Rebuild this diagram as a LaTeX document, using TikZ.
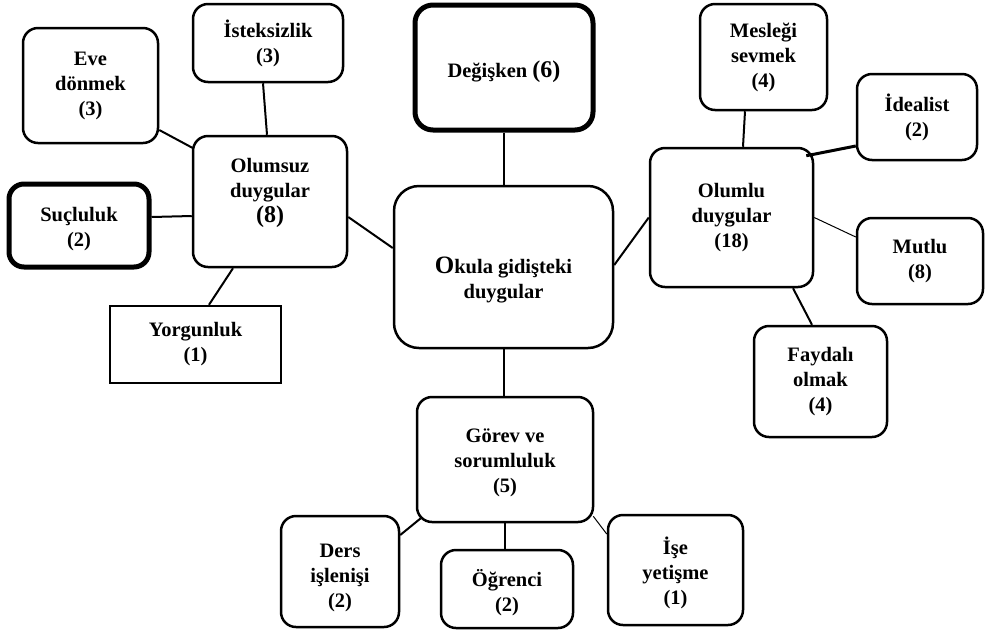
\documentclass[tikz,border=0pt]{standalone}
\usepackage{fontspec}
\setmainfont{Liberation Serif}
\begin{document}
\begin{tikzpicture}[x=1pt,y=-1pt,
  box/.style={draw=black,line width=2.5pt,rounded corners=15pt,inner sep=0pt,
    align=center,font=\fontsize{20.5}{25}\selectfont\bfseries,fill=white},
  thickbox/.style={box,line width=5pt},
  plainbox/.style={box,rounded corners=0pt},
  txt/.style={inner sep=0pt,align=center,font=\fontsize{20.5}{25}\selectfont\bfseries},
  link/.style={line width=2pt},
  thinlink/.style={line width=1pt},
  boldlink/.style={line width=3pt}]
\useasboundingbox (0,0) rectangle (985,633);

% central node and its three groups
\node[box,rounded corners=25pt,minimum width=219pt,minimum height=162pt] (cen) at (503.5,267) {};
\node[txt] (centxt) at ([yshift=-13pt]cen.center) {{\fontsize{25}{25}\selectfont O}kula gidişteki\\duygular};

\node[thickbox,rounded corners=18pt,minimum width=178pt,minimum height=125pt] (deg) at (504,67.5) {};
\node[txt] (degtxt) at ([yshift=-4pt]deg.center) {Değişken {\fontsize{24}{25}\selectfont(6)}};

\node[box,minimum width=154pt,minimum height=131pt] (olm) at (270,201.5) {};
\node[txt] (olmtxt) at ([yshift=9pt]olm.center) {Olumsuz\\duygular\\{\fontsize{24}{25}\selectfont(8)}};

\node[box,minimum width=163pt,minimum height=139pt] (olu) at (731.5,217.5) {Olumlu\\duygular\\(18)};

\node[box,minimum width=176pt,minimum height=125pt] (gor) at (505,459.5) {};
\node[txt] (gortxt) at ([yshift=-3.5pt]gor.center) {Görev ve\\sorumluluk\\(5)};

% negative feelings
\node[box,minimum width=135pt,minimum height=115pt] (eve) at (90.5,85.5) {Eve\\dönmek\\(3)};
\node[box,minimum width=150pt,minimum height=78pt] (ist) at (268,43) {İsteksizlik\\(3)};
\node[thickbox,minimum width=140pt,minimum height=83pt] (suc) at (79,225.5) {};
\node[txt] (suctxt) at ([yshift=-4pt]suc.center) {Suçluluk\\(2)};
\node[plainbox,minimum width=171pt,minimum height=77pt] (yor) at (195.5,344.5) {Yorgunluk\\(1)};

% positive feelings
\node[box,minimum width=127pt,minimum height=106pt] (mes) at (763.5,57) {Mesleği\\sevmek\\(4)};
\node[box,minimum width=120pt,minimum height=86pt] (ide) at (917,117) {İdealist\\(2)};
\node[box,minimum width=126pt,minimum height=86pt] (mut) at (920,261) {Mutlu\\(8)};
\node[box,minimum width=133pt,minimum height=111pt] (fay) at (820.5,381.5) {Faydalı\\olmak\\(4)};

% duty and responsibility
\node[box,minimum width=118pt,minimum height=111pt] (der) at (340,571.5) {};
\node[txt] (dertxt) at ([yshift=-6pt]der.center) {Ders\\işlenişi\\(2)};
\node[box,minimum width=132pt,minimum height=78pt] (ogr) at (507,589) {};
\node[txt] (ogrtxt) at ([yshift=-4pt]ogr.center) {Öğrenci\\(2)};
\node[box,minimum width=135pt,minimum height=110pt] (ise) at (675.5,570) {};
\node[txt] (isetxt) at ([yshift=-3pt]ise.center) {İşe\\yetişme\\(1)};

% connectors
\draw[link] ([yshift=-44.5pt]eve.east) -- ([xshift=1pt,yshift=53.5pt]olm.west);
\draw[link] ([xshift=-5pt]ist.south) -- ([xshift=-3pt]olm.north);
\draw[link] ([yshift=8.5pt]suc.east) -- ([yshift=-14.5pt]olm.west);
\draw[link] ([xshift=-37pt]olm.south) -- ([xshift=13.5pt]yor.north);
\draw[link] ([yshift=-15.5pt]olm.east) -- ([yshift=19pt]cen.west);
\draw[link] (deg.south) -- (deg.south |- cen.north);
\draw[link] (cen.south) -- (cen.south |- gor.north);
\draw[link] ([yshift=2pt]cen.east) -- (olu.west);
\draw[link] ([xshift=-18.5pt]mes.south) -- ([xshift=11.5pt]olu.north);
\draw[boldlink] ([xshift=-8pt,yshift=-9pt]olu.north east) -- ([yshift=-29pt]ide.west);
\draw[thinlink] (olu.east) -- ([yshift=24pt]mut.west);
\draw[link] ([xshift=61.5pt]olu.south) -- ([xshift=-8.5pt]fay.north);
\draw[link] ([xshift=5pt,yshift=5pt]gor.south west) -- ([yshift=36.5pt]der.east);
\draw[link] (gor.south) -- (gor.south |- ogr.north);
\draw[thinlink] ([xshift=-1pt,yshift=7pt]gor.south east) -- ([yshift=36pt]ise.west);
\end{tikzpicture}
\end{document}
